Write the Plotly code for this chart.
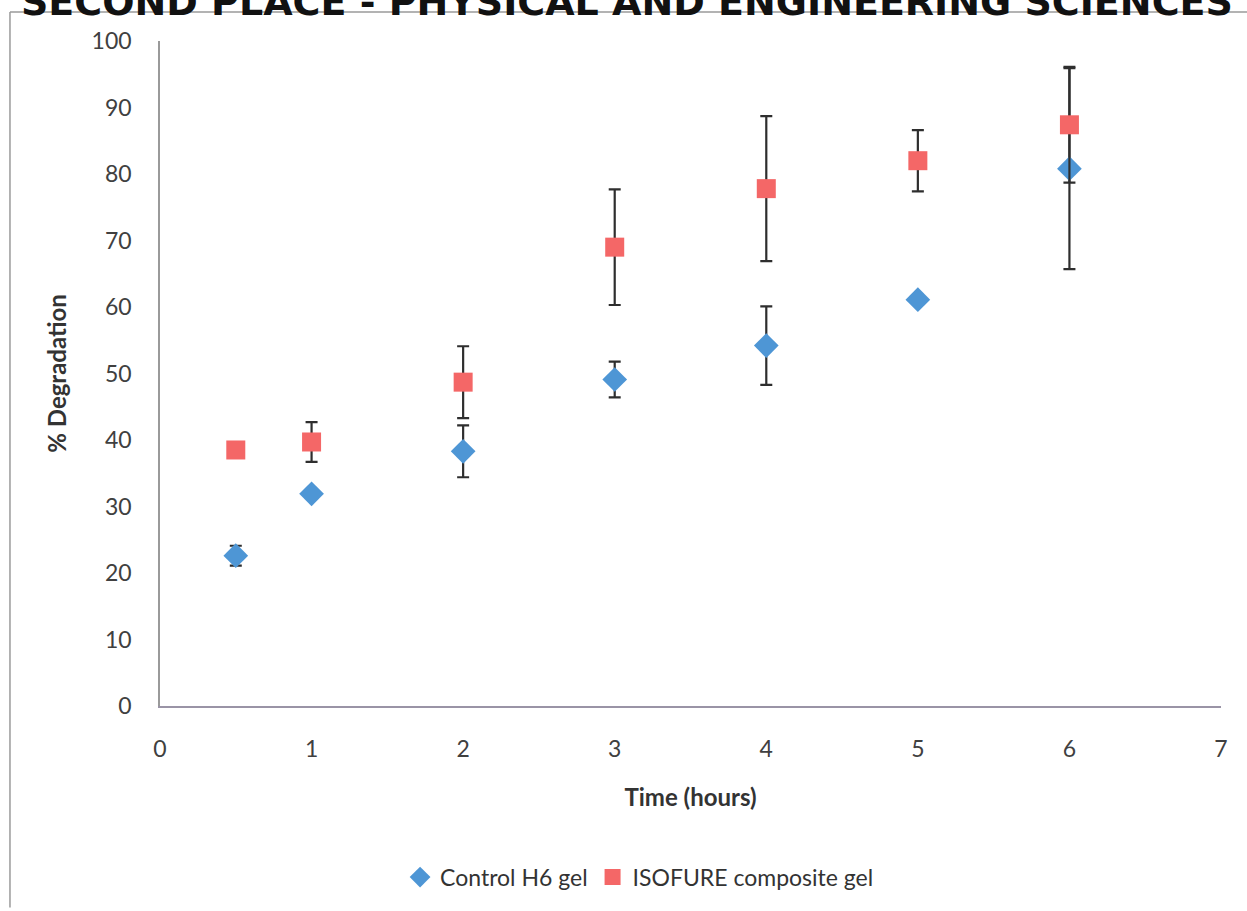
import plotly.graph_objects as go

time_hours = [0.5, 1, 2, 3, 4, 5, 6]
control_h6 = [22.6, 31.9, 38.3, 49.1, 54.2, 61.1, 80.8]
control_err = [1.5, 0.3, 3.9, 2.7, 5.9, 0.3, 15.1]
isofure = [38.5, 39.7, 48.7, 69.0, 77.8, 82.0, 87.4]
isofure_err = [0.3, 3.0, 5.4, 8.7, 10.9, 4.6, 8.7]

FONT = "Lato, 'Open Sans', sans-serif"

fig = go.Figure()
fig.add_trace(go.Scatter(
    x=time_hours, y=control_h6, mode="markers", name="Control H6 gel",
    marker=dict(symbol="diamond", size=19, color="#4E96D5"),
    error_y=dict(type="data", array=control_err, visible=True, color="#2e2e2e", thickness=2.2, width=6),
))
fig.add_trace(go.Scatter(
    x=time_hours, y=isofure, mode="markers", name="ISOFURE composite gel",
    marker=dict(symbol="square", size=19, color="#F46767"),
    error_y=dict(type="data", array=isofure_err, visible=True, color="#2e2e2e", thickness=2.2, width=6),
))

fig.update_layout(
    width=1247, height=911,
    margin=dict(l=160, r=26, t=41, b=199),
    paper_bgcolor="white", plot_bgcolor="white",
    font=dict(family=FONT, color="#404040", size=23),
    showlegend=True,
    legend=dict(orientation="h", x=0.452, xanchor="center", y=-0.225, yanchor="top",
                font=dict(size=23, color="#333333"), itemsizing="trace"),
    xaxis=dict(range=[0, 7], dtick=1, showgrid=False, zeroline=False, showline=True,
               linecolor="#9a94a6", linewidth=1.5, ticks="", tickfont=dict(size=23),
               ticklabelstandoff=22, automargin=False,
               title=dict(text="<b>Time (hours)</b>", font=dict(size=24, color="#333333"), standoff=28)),
    yaxis=dict(range=[0, 100], dtick=10, showgrid=False, zeroline=False, showline=True,
               linecolor="#9a9a9a", linewidth=1.5, ticks="", tickfont=dict(size=23),
               ticklabelstandoff=22, automargin=False,
               title=dict(text="<b>% Degradation</b>", font=dict(size=24, color="#333333"), standoff=18)),
)

fig.add_annotation(
    text="<b>SECOND PLACE - PHYSICAL AND ENGINEERING SCIENCES</b>",
    xref="paper", yref="paper", x=0.44, y=1.0, yshift=41 - 26, yanchor="bottom", xanchor="center",
    showarrow=False, font=dict(family="'DejaVu Sans', sans-serif", size=38, color="#111111"),
)

# outer chart frame (partial, as in scanned reference)
fig.add_shape(type="line", xref="paper", yref="paper", x0=-0.1414, x1=1.03, y0=1.0435, y1=1.0435,
              line=dict(color="#9a9a9a", width=1.5))
fig.add_shape(type="line", xref="paper", yref="paper", x0=-0.1414, x1=-0.1414, y0=1.0435, y1=-0.303,
              line=dict(color="#9a9a9a", width=1.5))

fig.write_html("out.html")
